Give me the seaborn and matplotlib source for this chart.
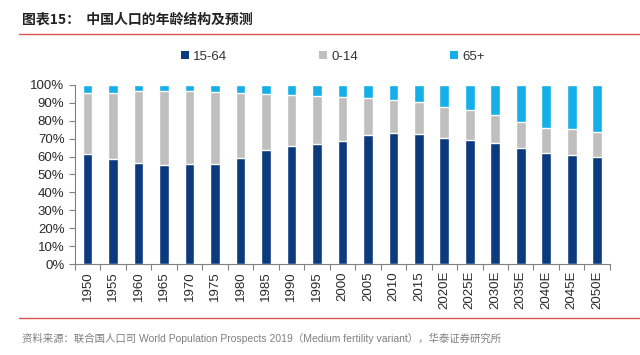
import numpy as np
import pandas as pd
import matplotlib
matplotlib.use("Agg")
import matplotlib.pyplot as plt
import seaborn as sns
from matplotlib.ticker import PercentFormatter
from matplotlib.patches import Patch
from matplotlib.lines import Line2D


years = ["1950", "1955", "1960", "1965", "1970", "1975", "1980", "1985",
         "1990", "1995", "2000", "2005", "2010", "2015", "2020E", "2025E",
         "2030E", "2035E", "2040E", "2045E", "2050E"]

age_15_64 = [61.5, 58.6, 56.3, 55.2, 55.8, 55.8, 59.1, 63.7, 66.0, 66.9, 68.4,
             71.9, 73.4, 72.7, 70.4, 69.2, 67.5, 64.7, 62.1, 61.0, 59.7]
age_0_14 = [34.2, 37.1, 40.3, 41.4, 40.8, 40.0, 36.6, 31.1, 28.4, 27.1, 24.7,
            20.5, 18.4, 17.8, 17.5, 16.9, 15.6, 14.7, 14.1, 14.1, 14.1]
age_65 = [4.3, 4.3, 3.4, 3.4, 3.4, 4.2, 4.3, 5.2, 5.6, 6.0, 6.9,
          7.6, 8.2, 9.5, 12.1, 13.9, 16.9, 20.6, 23.8, 24.9, 26.2]

series_names = ["15-64", "0-14", "65+"]
colors = ["#0B3A7E", "#BFBFBF", "#14AEE8"]


df = pd.DataFrame({
    "year": years,
    "15-64": np.array(age_15_64) / 100,
    "0-14": np.array(age_0_14) / 100,
    "65+": np.array(age_65) / 100,
})

# stacked by overlaying cumulative totals
df["c1"] = df["15-64"]
df["c2"] = df["c1"] + df["0-14"]
df["c3"] = df["c2"] + df["65+"]

sns.set_style("white")
plt.rcParams["font.family"] = ["Liberation Sans", "Noto Sans CJK SC"]

fig = plt.figure(figsize=(6.4, 3.55), dpi=100)
ax = fig.add_axes([0.117, 0.256, 0.836, 0.505])

for col, color in zip(["c3", "c2", "c1"], colors[::-1]):
    sns.barplot(
        data=df,
        x="year",
        y=col,
        color=color,
        width=0.38,
        saturation=1,
        ax=ax
    )

ax.set_ylim(0, 1)
ax.set_xlim(-0.5, len(years) - 0.5)
ax.yaxis.set_major_formatter(PercentFormatter(1.0, decimals=0))
ax.set_yticks(np.arange(0, 1.01, 0.1))
ax.set_xlabel("")
ax.set_ylabel("")

for s in ["top", "right"]:
    ax.spines[s].set_visible(False)
for s in ["left", "bottom"]:
    ax.spines[s].set_color("#808080")
    ax.spines[s].set_linewidth(0.8)

ax.set_xticks(range(len(years)))
ax.set_xticklabels(years, rotation=90, fontsize=9.5, color="#2A2A2A")
ax.tick_params(axis="x", length=0, pad=5)
ax.tick_params(axis="y", labelsize=9.5, colors="#2A2A2A", length=4,
               direction="out", color="#808080", width=0.8, left=True)

# tick marks between categories
ax.set_xticks(np.arange(-0.5, len(years), 1), minor=True)
ax.tick_params(axis="x", which="minor", length=4, color="#808080",
               width=0.8, direction="out", bottom=True)

handles = [Patch(facecolor=c, edgecolor="none") for c in colors]
fig.legend(
    handles,
    series_names,
    loc="center",
    bbox_to_anchor=(0.52, 0.84),
    ncol=3,
    frameon=False,
    fontsize=9.5,
    handlelength=0.6,
    handleheight=0.6,
    handletextpad=0.3,
    columnspacing=7.0,
    labelcolor="#333333"
)

fig.text(0.035, 0.945, "图表15：  中国人口的年龄结构及预测",
         fontsize=10, fontweight="bold", color="#222222",
         family=["Noto Sans CJK SC", "DejaVu Sans"], va="center")

fig.add_artist(Line2D([0.03, 1.0], [0.903, 0.903], color="#D9534F",
                      linewidth=1.0))
fig.add_artist(Line2D([0.03, 1.0], [0.105, 0.105], color="#D9534F",
                      linewidth=1.0))

fig.text(0.035, 0.048,
         "资料来源：联合国人口司 World Population Prospects 2019（Medium fertility variant），华泰证券研究所",
         fontsize=7.5, color="#7F7F7F",
         family=["Liberation Sans", "Noto Sans CJK SC"], va="center")

fig.savefig("out.png", dpi=100, facecolor="white")
plt.close(fig)
